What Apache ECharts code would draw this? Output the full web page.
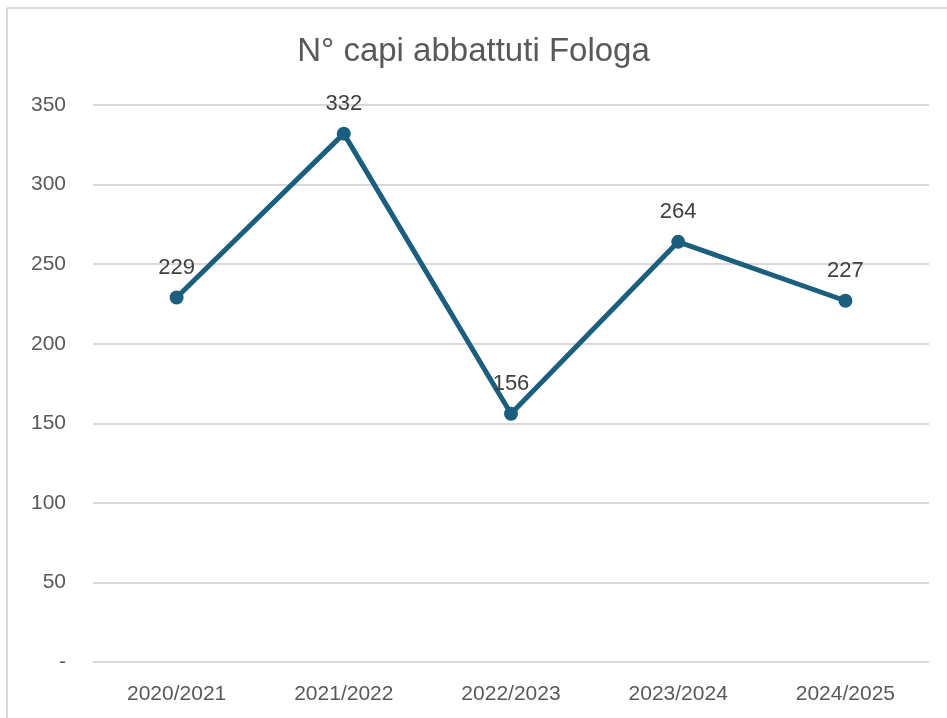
<!DOCTYPE html>
<html>
<head>
<meta charset="utf-8">
<script src="https://cdn.jsdelivr.net/npm/echarts@6/dist/echarts.min.js"></script>
<style>
  html,body{margin:0;padding:0;background:#fff;}
  #main{width:947px;height:718px;}
</style>
</head>
<body>
<div id="main"></div>
<script>
'use strict';
// dati
var stagioni = ['2020/2021', '2021/2022', '2022/2023', '2023/2024', '2024/2025'];
var capi = [229, 332, 156, 264, 227];
var titolo = 'N° capi abbattuti Fologa';

var myChart = echarts.init(document.getElementById('main'));
var font = '"Liberation Sans", Arial, sans-serif';
var option = {
  backgroundColor: '#fff',
  animation: false,
  title: {
    text: titolo,
    left: 'center',
    top: 30,
    textStyle: { fontFamily: font, fontSize: 33, fontWeight: 'normal', color: '#595959' }
  },
  graphic: [
    { type: 'line', shape: { x1: 7, y1: 8, x2: 947, y2: 8 }, style: { stroke: '#d9d9d9', lineWidth: 2 } },
    { type: 'line', shape: { x1: 7, y1: 8, x2: 7, y2: 718 }, style: { stroke: '#d9d9d9', lineWidth: 2 } }
  ],
  grid: { left: 93, right: 18, top: 105, bottom: 56 },
  xAxis: {
    type: 'category',
    data: stagioni,
    axisLine: { show: false },
    axisTick: { show: false },
    axisLabel: { fontFamily: font, fontSize: 21, color: '#595959', margin: 22 }
  },
  yAxis: {
    type: 'value',
    min: 0,
    max: 350,
    interval: 50,
    axisLine: { show: false },
    axisTick: { show: false },
    splitLine: { lineStyle: { color: '#d9d9d9', width: 2 } },
    axisLabel: {
      fontFamily: font, fontSize: 21, color: '#595959', margin: 27,
      formatter: function (v) { return v === 0 ? '-' : v; }
    }
  },
  series: [{
    type: 'line',
    data: capi,
    symbol: 'circle',
    symbolSize: 14,
    lineStyle: { color: '#1b5e7e', width: 5 },
    itemStyle: { color: '#1b5e7e' },
    label: {
      show: true,
      position: 'top',
      distance: 12,
      fontFamily: font,
      fontSize: 22,
      color: '#404040'
    }
  }]
};
myChart.setOption(option);
</script>
</body>
</html>
